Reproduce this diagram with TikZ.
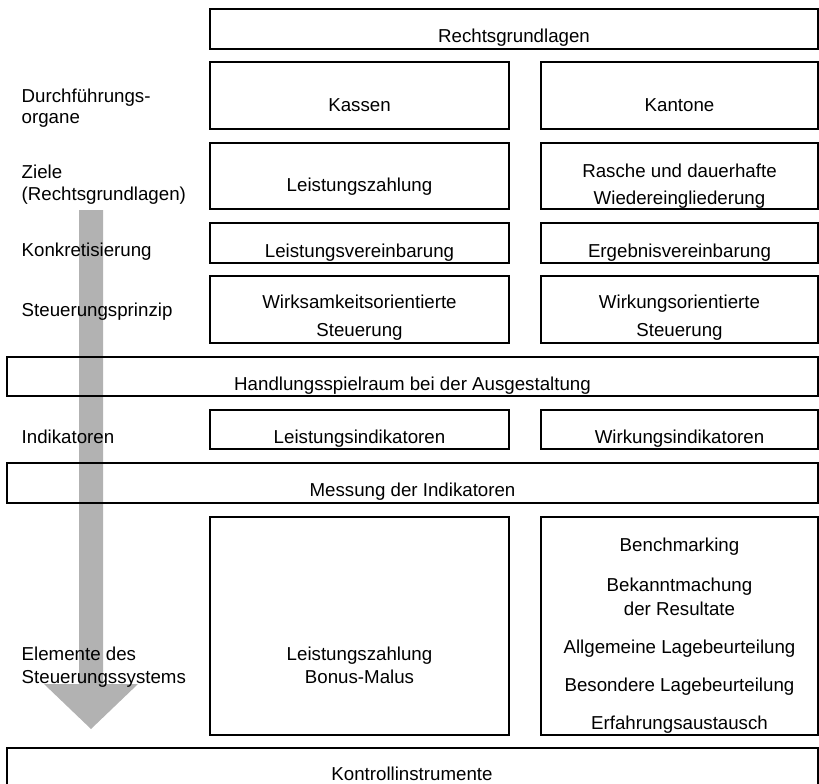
\documentclass[tikz,border=0pt]{standalone}
\usepackage{fontspec}
\setmainfont{Liberation Sans}
\newcommand\mybox[5]{\node[box, minimum width={#4-#2}, minimum height={#5-#3}] (#1) at ({(#2+#4)/2},{(#3+#5)/2}) {};}
\begin{document}
\begin{tikzpicture}[x=1pt,y=-1pt,
  box/.style={draw=black, line width=2pt, inner sep=0pt, outer sep=0pt},
  txt/.style={anchor=base, inner sep=0pt, font=\fontsize{18.7}{22}\selectfont},
  lbl/.style={anchor=base west, inner sep=0pt, font=\fontsize{18.7}{22}\selectfont},
  flow/.style={fill=black!30, draw=none}]
\useasboundingbox (0,0) rectangle (819,784);
\clip (0,0) rectangle (819,784);
% flow arrow
\fill[flow] (79,210) -- (103,210) -- (103,684) -- (138,684) -- (91,729) -- (44,684) -- (79,684) -- cycle;
% boxes
\mybox{top}{210}{9}{818}{49}
\mybox{kassen}{210}{62}{509}{129}
\mybox{kantone}{541}{62}{818}{129}
\mybox{zielA}{210}{143}{509}{209}
\mybox{zielB}{541}{143}{818}{209}
\mybox{konkA}{210}{223}{509}{263}
\mybox{konkB}{541}{223}{818}{263}
\mybox{steuA}{210}{276}{509}{343}
\mybox{steuB}{541}{276}{818}{343}
\mybox{hand}{7}{357}{818}{396}
\mybox{indA}{210}{410}{509}{449}
\mybox{indB}{541}{410}{818}{449}
\mybox{mess}{7}{463}{818}{503}
\mybox{elemA}{210}{517}{509}{735}
\mybox{elemB}{541}{517}{818}{735}
\mybox{kontr}{7}{748}{818}{810}
% left labels
\node[lbl] (l1a) at (21.5,102) {Durchführungs-};
\node[lbl] (l1b) at (21.5,123) {organe};
\node[lbl] (l2a) at (21.5,178) {Ziele};
\node[lbl] (l2b) at (21.5,200) {(Rechtsgrundlagen)};
\node[lbl] (l3) at (21.5,256) {Konkretisierung};
\node[lbl] (l4) at (21.5,316) {Steuerungsprinzip};
\node[lbl] (l5) at (21.5,443) {Indikatoren};
\node[lbl] (l6a) at (21.5,660) {Elemente des};
\node[lbl] (l6b) at (21.5,683) {Steuerungssystems};
% box texts
\node[txt] (t0) at (top.center |- 0,43) {Rechtsgrundlagen};
\node[txt] (t1) at (kassen.center |- 0,111) {Kassen};
\node[txt] (t2) at (kantone.center |- 0,111) {Kantone};
\node[txt] (t3) at (zielA.center |- 0,191) {Leistungszahlung};
\node[txt] (t4a) at (zielB.center |- 0,177) {Rasche und dauerhafte};
\node[txt] (t4b) at (zielB.center |- 0,204) {Wiedereingliederung};
\node[txt] (t5) at (konkA.center |- 0,257) {Leistungsvereinbarung};
\node[txt] (t6) at (konkB.center |- 0,257) {Ergebnisvereinbarung};
\node[txt] (t7a) at (steuA.center |- 0,308) {Wirksamkeitsorientierte};
\node[txt] (t7b) at (steuA.center |- 0,336) {Steuerung};
\node[txt] (t8a) at (steuB.center |- 0,308) {Wirkungsorientierte};
\node[txt] (t8b) at (steuB.center |- 0,336) {Steuerung};
\node[txt] (t9) at (hand.center |- 0,390) {Handlungsspielraum bei der Ausgestaltung};
\node[txt] (t10) at (indA.center |- 0,443) {Leistungsindikatoren};
\node[txt] (t11) at (indB.center |- 0,443) {Wirkungsindikatoren};
\node[txt] (t12) at (mess.center |- 0,496) {Messung der Indikatoren};
\node[txt] (t13a) at (elemA.center |- 0,660) {Leistungszahlung};
\node[txt] (t13b) at (elemA.center |- 0,683) {Bonus-Malus};
\node[txt] (t14a) at (elemB.center |- 0,551) {Benchmarking};
\node[txt] (t14b) at (elemB.center |- 0,591) {Bekanntmachung};
\node[txt] (t14c) at (elemB.center |- 0,615) {der Resultate};
\node[txt] (t14d) at (elemB.center |- 0,653) {Allgemeine Lagebeurteilung};
\node[txt] (t14e) at (elemB.center |- 0,691) {Besondere Lagebeurteilung};
\node[txt] (t14f) at (elemB.center |- 0,729) {Erfahrungsaustausch};
\node[txt] (t15) at (412,780) {Kontrollinstrumente};
\end{tikzpicture}
\end{document}
